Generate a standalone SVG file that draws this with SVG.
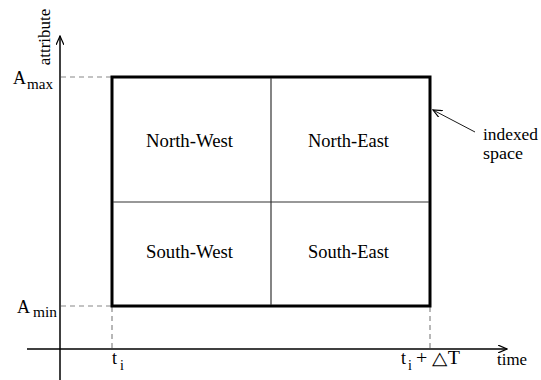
<svg xmlns="http://www.w3.org/2000/svg" width="541" height="380" viewBox="0 0 541 380">
<style>
text{font-family:"Liberation Serif","Times New Roman",serif;fill:#000}
.lbl{font-size:18px}
.ax{stroke:#000;stroke-width:1.5;fill:none}
.dash{stroke:#888;stroke-width:1.2;stroke-dasharray:5,4;fill:none}
.box{stroke:#000;stroke-width:3;fill:none}
.div{stroke:#333;stroke-width:1.2;fill:none}
</style>
<defs>
<marker id="arr" markerWidth="10" markerHeight="8" refX="9" refY="4" orient="auto" markerUnits="userSpaceOnUse">
<path d="M0,0 L9,4 L0,8" fill="none" stroke="#000" stroke-width="1.2"/>
</marker>
</defs>
<rect width="541" height="380" fill="#fff"/>
<g id="connectors">
<line class="ax" x1="60" y1="380" x2="60" y2="36" marker-end="url(#arr)"/>
<line class="ax" x1="27" y1="349" x2="507" y2="349" marker-end="url(#arr)"/>
<line class="dash" x1="61" y1="77" x2="112" y2="77"/>
<line class="dash" x1="61" y1="306" x2="112" y2="306"/>
<line class="dash" x1="112" y1="307" x2="112" y2="348"/>
<line class="dash" x1="430" y1="307" x2="430" y2="348"/>
<line x1="475" y1="132" x2="433" y2="110" stroke="#000" stroke-width="0.9" marker-end="url(#arr)"/>
</g>
<g id="indexed-space">
<rect class="box" x="112" y="77" width="318" height="229"/>
<line class="div" x1="271" y1="78" x2="271" y2="305"/>
<line class="div" x1="113" y1="202" x2="429" y2="202"/>
</g>
<g id="north-west"><text class="lbl" x="146" y="147" textLength="87" lengthAdjust="spacingAndGlyphs">North-West</text></g>
<g id="north-east"><text class="lbl" x="308" y="147" textLength="81" lengthAdjust="spacingAndGlyphs">North-East</text></g>
<g id="south-west"><text class="lbl" x="146" y="258" textLength="87" lengthAdjust="spacingAndGlyphs">South-West</text></g>
<g id="south-east"><text class="lbl" x="308" y="258" textLength="81" lengthAdjust="spacingAndGlyphs">South-East</text></g>
<g id="labels">
<text x="0" y="0" font-size="17" text-anchor="middle" transform="translate(50,37) rotate(-90)">attribute</text>
<text x="13" y="84" font-size="18">A</text>
<text x="27" y="89" font-size="15" textLength="26" lengthAdjust="spacingAndGlyphs">max</text>
<text x="17" y="313" font-size="18">A</text>
<text x="33" y="317" font-size="15" textLength="24" lengthAdjust="spacingAndGlyphs">min</text>
<text x="112" y="364" font-size="18">t</text>
<text x="120" y="370" font-size="14">i</text>
<text x="401" y="364" font-size="18">t</text>
<text x="408" y="370" font-size="14">i</text>
<text x="416" y="364" font-size="18" textLength="44" lengthAdjust="spacingAndGlyphs">+ △T</text>
<text x="497" y="365" font-size="17" textLength="30" lengthAdjust="spacingAndGlyphs">time</text>
<text x="483" y="140" font-size="16" textLength="55" lengthAdjust="spacingAndGlyphs">indexed</text>
<text x="483" y="159" font-size="16" textLength="40" lengthAdjust="spacingAndGlyphs">space</text>
</g>
</svg>
